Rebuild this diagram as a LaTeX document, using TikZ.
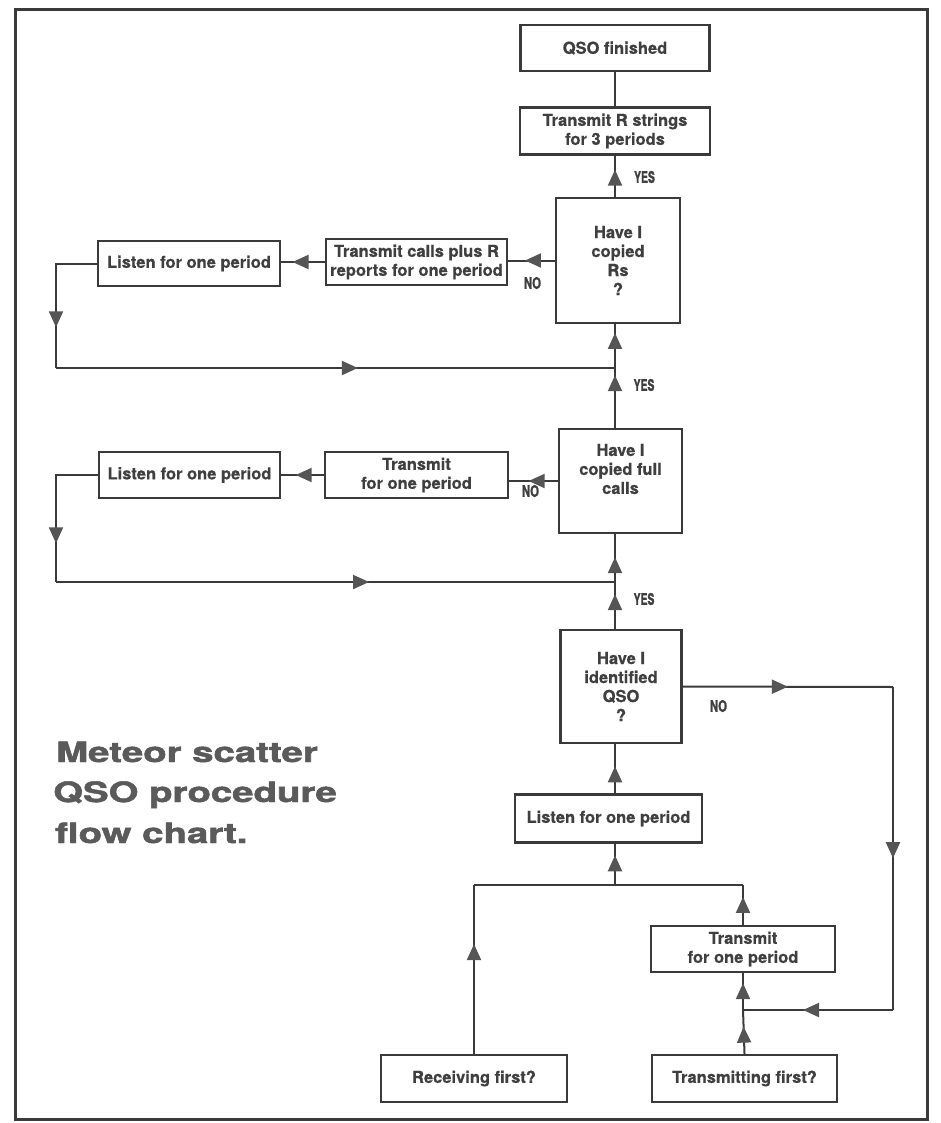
\documentclass[tikz,border=0pt]{standalone}
\usepackage{fontspec}
\setmainfont{TeX Gyre Heros}
\newfontfamily\boxfam[FakeBold=0.6]{TeX Gyre Heros}
\newfontfamily\heavyfam[FakeBold=1.6]{TeX Gyre Heros}
\usetikzlibrary{arrows.meta,decorations.markings}
\definecolor{ink}{HTML}{3A3A3A}
\definecolor{txt}{HTML}{3F3F3F}
\definecolor{tipc}{HTML}{555555}
\definecolor{ttl}{HTML}{5A5A5A}
\tikzset{
  box/.style={draw=ink, line width=2.4pt, text=txt, align=center, inner sep=0pt,
    font=\boxfam\fontsize{16.5}{19}\selectfont\bfseries},
  conn/.style={draw=ink, line width=2pt},
  arrat/.style={decoration={markings, mark=at position #1 with
      {\arrow{Triangle[length=16pt,width=14pt,color=tipc]}}}, postaction={decorate}},
  yn/.style={text=txt, inner sep=0pt, font=\heavyfam\fontsize{16}{16}\selectfont\bfseries},
  ttlfont/.style={text=ttl, inner sep=0pt, anchor=base west,
    font=\heavyfam\fontsize{28}{40}\selectfont\bfseries}
}
\begin{document}
\begin{tikzpicture}[x=1pt,y=-1pt]
\useasboundingbox (0,0) rectangle (941,1123);
\draw[ink, line width=3pt] (15,10) rectangle (927,1119);

% boxes
\node[box, minimum width=189pt, minimum height=46pt] (fin) at (615,48) {QSO finished};
\node[box, minimum width=190pt, minimum height=47pt] (txr) at (615,131) {Transmit R strings\\for 3 periods};
\node[box, minimum width=124pt, minimum height=125pt] (qrs) at (618,260.5) {Have I\\copied\\Rs\\?};
\node[box, minimum width=181pt, minimum height=46pt] (tcr) at (416.5,262) {Transmit calls plus R\\reports for one period};
\node[box, minimum width=182pt, minimum height=45pt] (l1) at (189,263.5) {Listen for one period};
\node[box, minimum width=123pt, minimum height=104pt,
  label={[yshift=12pt, text=txt, align=center, font=\boxfam\fontsize{16.5}{19}\selectfont\bfseries]center:{Have I\\copied full\\calls}}] (qfc) at (620.5,481) {};
\node[box, minimum width=183pt, minimum height=46pt] (t2) at (416.5,475) {Transmit\\for one period};
\node[box, minimum width=181pt, minimum height=46pt] (l2) at (189.5,475) {Listen for one period};
\node[box, minimum width=121pt, minimum height=113pt] (qid) at (621,686.5) {Have I\\identified\\QSO\\?};
\node[box, minimum width=187pt, minimum height=48pt] (l3) at (608.5,818.5) {Listen for one period};
\node[box, minimum width=184pt, minimum height=46pt] (t3) at (743,949) {Transmit\\for one period};
\node[box, minimum width=185pt, minimum height=47pt] (tf) at (744.5,1078.5) {Transmitting first?};
\node[box, minimum width=186pt, minimum height=47pt] (rf) at (474,1078.5) {Receiving first?};

% labels
\node[yn] (yes1) at (644.5,177) {\scalebox{0.65}[1]{YES}};
\node[yn] (yes2) at (644,385) {\scalebox{0.65}[1]{YES}};
\node[yn] (yes3) at (644,599) {\scalebox{0.65}[1]{YES}};
\node[yn] (no1) at (532.5,283) {\scalebox{0.7}[1]{NO}};
\node[yn] (no2) at (530.5,491) {\scalebox{0.7}[1]{NO}};
\node[yn] (no3) at (718.5,706) {\scalebox{0.7}[1]{NO}};

% title
\node[ttlfont] (ti1) at (56,762) {\scalebox{1.37}[1]{Meteor scatter}};
\node[ttlfont] (ti2) at (53,802) {\scalebox{1.37}[1]{QSO procedure}};
\node[ttlfont] (ti3) at (55,843) {\scalebox{1.37}[1]{flow chart.}};

% coordinates
\coordinate (tk) at (615,0);
\coordinate (J1) at (615,368);
\coordinate (L1) at (56,368);
\coordinate (J2) at (615,582);
\coordinate (L2) at (56,582);
\coordinate (nr) at (893,687);
\coordinate (nr2) at (893,1010);
\coordinate (J3) at (615,885);
\coordinate (c5) at (rf.north |- J3);
\coordinate (c6) at (t3.north |- J3);
\coordinate (J4) at (t3.south |- nr2);

% connectors
\draw[conn] (txr.north -| tk) -- (fin.south -| tk);
\draw[conn, arrat=0.66] (qrs.north -| tk) -- (txr.south -| tk);
\draw[conn, arrat=0.64] (qrs.west) -- (qrs.west -| tcr.east);
\draw[conn, arrat=0.74] (tcr.west) -- (tcr.west -| l1.east);
\draw[conn, arrat=0.72] (l1.west) -| (L1);
\draw[conn, arrat=0.54] (L1) -- (J1);
\draw[conn, arrat=0.80] (J1) -- (qrs.south -| tk);
\draw[conn, arrat=0.88] (qfc.north -| tk) -- (J1);

\draw[conn, arrat=0.60] (qfc.west) -- (qfc.west -| t2.east);
\draw[conn, arrat=0.66] (t2.west) -- (t2.west -| l2.east);
\draw[conn, arrat=0.74] (l2.west) -| (L2);
\draw[conn, arrat=0.56] (L2) -- (J2);
\draw[conn, arrat=0.52] (J2) -- (qfc.south -| tk);
\draw[conn, arrat=0.74] (qid.north -| tk) -- (J2);

\draw[conn, arrat=0.50] (qid.east) -- (nr);
\draw[conn, arrat=0.53] (nr) -- (nr2);
\draw[conn, arrat=0.60] (nr2) -- (J4);

\draw[conn, arrat=0.55] (l3.north -| tk) -- (qid.south -| tk);
\draw[conn, arrat=0.72] (J3) -- (l3.south -| tk);
\draw[conn, arrat=0.65] (rf.north) -- (c5);
\draw[conn] (c5) -- (J3);
\draw[conn, arrat=0.70] (t3.north) -- (c6);
\draw[conn] (c6) -- (J3);
\draw[conn, arrat=0.73] (J4) -- (t3.south);
\draw[conn, arrat=0.62] (tf.north) -- (J4);
\end{tikzpicture}
\end{document}
